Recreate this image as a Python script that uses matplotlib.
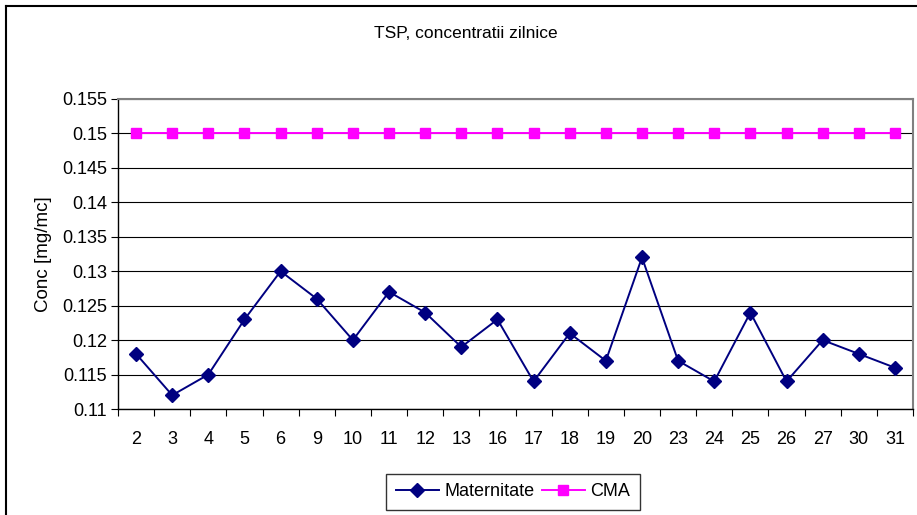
import matplotlib
matplotlib.use("Agg")
import matplotlib.pyplot as plt
from matplotlib.lines import Line2D
import numpy as np

plt.rcParams['font.family'] = ['Liberation Sans', 'DejaVu Sans']

days = ["2", "3", "4", "5", "6", "9", "10", "11", "12", "13", "16", "17",
        "18", "19", "20", "23", "24", "25", "26", "27", "30", "31"]
maternitate = [0.118, 0.112, 0.115, 0.123, 0.130, 0.126, 0.120, 0.127, 0.124, 0.119,
               0.123, 0.114, 0.121, 0.117, 0.132, 0.117, 0.114, 0.124, 0.114, 0.120,
               0.118, 0.116]
cma = [0.15] * len(days)
yticks = [0.11, 0.115, 0.12, 0.125, 0.13, 0.135, 0.14, 0.145, 0.15, 0.155]
ytick_labels = ["0.11", "0.115", "0.12", "0.125", "0.13", "0.135", "0.14", "0.145", "0.15", "0.155"]

W, H = 917, 515
fig = plt.figure(figsize=(W / 100, H / 100), dpi=100)
ax = fig.add_axes([118 / W, 1 - 409 / H, (913 - 118) / W, (409 - 99) / H])

x = np.arange(len(days)) + 0.5
ax.plot(x, maternitate, color='#000080', marker='D', markersize=7, linewidth=1.4,
        label='Maternitate', zorder=3)
ax.plot(x, cma, color='#FF00FF', marker='s', markersize=7, linewidth=1.4,
        label='CMA', zorder=3)

ax.set_xlim(0, len(days))
ax.set_ylim(0.11, 0.155)
ax.set_yticks(yticks)
ax.set_yticklabels(ytick_labels, fontsize=13)
ax.set_xticks(np.arange(len(days) + 1))
ax.set_xticklabels([])
ax.set_xticks(x, minor=True)
ax.set_xticklabels(days, minor=True, fontsize=13)
ax.tick_params(axis='x', which='major', direction='out', length=5, width=0.8, color='black')
ax.tick_params(axis='x', which='minor', length=0, pad=16)
ax.tick_params(axis='y', direction='out', length=5, width=0.8, color='black', pad=3)

ax.yaxis.grid(True, color='black', linewidth=0.8)
ax.set_axisbelow(True)
for s in ['top', 'right']:
    ax.spines[s].set_color('#808080')
    ax.spines[s].set_linewidth(1.5)
for s in ['left', 'bottom']:
    ax.spines[s].set_color('black')
    ax.spines[s].set_linewidth(1.0)

ax.set_ylabel('Conc [mg/mc]', fontsize=13.5)
ax.yaxis.set_label_coords((52 - 118) / (913 - 118), 0.5)

fig.text(466 / W, 1 - 33 / H, 'TSP, concentratii zilnice', ha='center', va='center', fontsize=12.5)

leg = fig.legend(loc='center', bbox_to_anchor=(513 / W, 1 - 492 / H), ncol=2,
                 fontsize=13, frameon=True, fancybox=False, edgecolor='black',
                 handlelength=2.4, columnspacing=0.4, handletextpad=0.3,
                 borderpad=0.55, borderaxespad=0)
leg.get_frame().set_linewidth(1.0)

# outer chart-area frame (left and top edges visible)
fig.add_artist(Line2D([5.5 / W, 5.5 / W], [0, 1 - 6 / H], color='black', linewidth=1.5,
                      transform=fig.transFigure))
fig.add_artist(Line2D([5.5 / W, 1], [1 - 6 / H, 1 - 6 / H], color='black', linewidth=1.5,
                      transform=fig.transFigure))

fig.savefig('out.png', dpi=100)
